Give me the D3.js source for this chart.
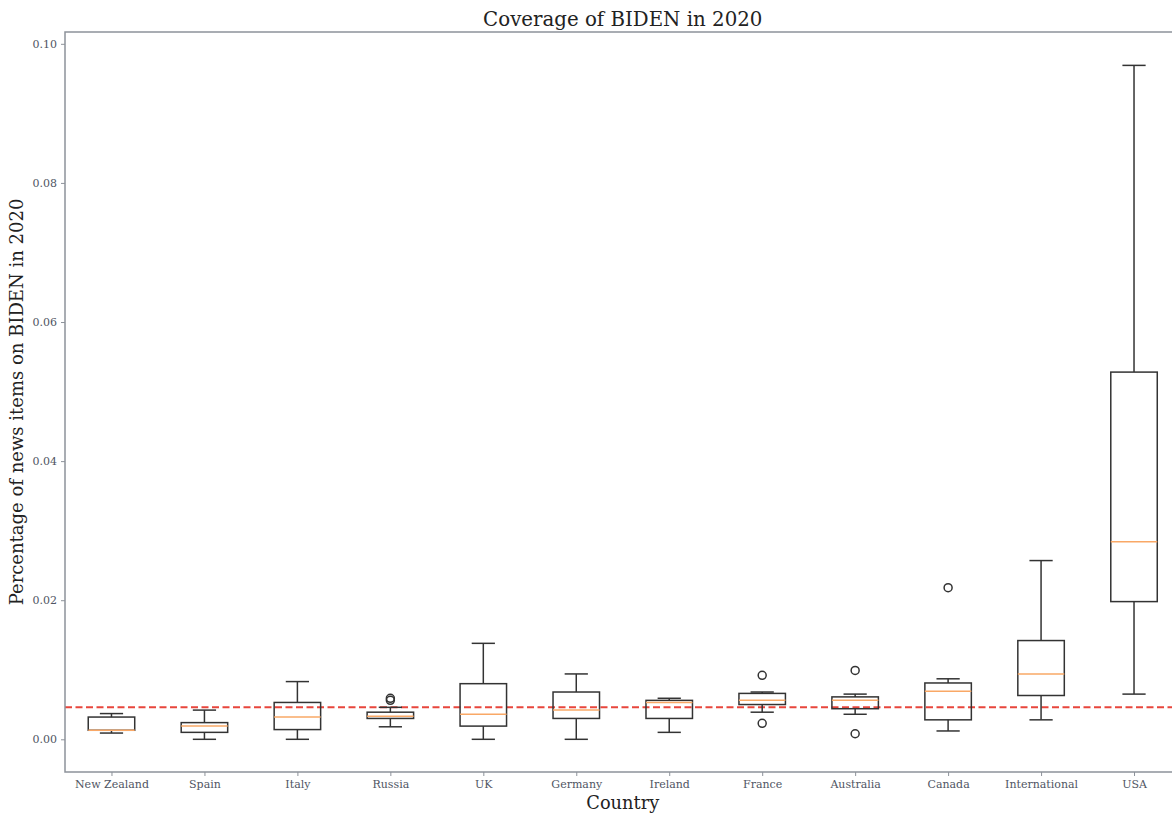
<!DOCTYPE html>
<html>
<head>
<meta charset="utf-8">
<script src="https://cdn.jsdelivr.net/npm/d3@7"></script>
<style>
  html, body { margin: 0; padding: 0; background: #fff; overflow: hidden; }
  svg { display: block; font-family: "DejaVu Serif", serif; }
</style>
</head>
<body>
<svg id="chart" width="1172" height="818"></svg>
<script>
const categories = ["New Zealand","Spain","Italy","Russia","UK","Germany","Ireland","France","Australia","Canada","International","USA"];
const whiskerLow  = [0.0009, 0.0000, 0.0000, 0.0018, 0.0000, 0.0000, 0.0010, 0.0039, 0.0036, 0.0012, 0.0028, 0.0065];
const q1          = [0.0013, 0.0010, 0.0014, 0.0030, 0.0019, 0.0030, 0.0030, 0.0050, 0.0044, 0.0028, 0.0063, 0.0198];
const medians     = [0.0013, 0.0019, 0.0032, 0.0033, 0.0036, 0.0042, 0.0053, 0.0056, 0.0056, 0.0069, 0.0094, 0.0284];
const q3          = [0.0032, 0.0024, 0.0053, 0.0039, 0.0080, 0.0068, 0.0056, 0.0066, 0.0061, 0.0081, 0.0142, 0.0528];
const whiskerHigh = [0.0037, 0.0042, 0.0083, 0.0046, 0.0138, 0.0094, 0.0059, 0.0068, 0.0065, 0.0087, 0.0257, 0.0969];
const outliers    = [[], [], [], [0.0056, 0.0059], [], [], [], [0.0092, 0.0023], [0.0099, 0.0008], [0.0218], [], []];
const meanLine = 0.0046;
const yTicks = [0.00, 0.02, 0.04, 0.06, 0.08, 0.10];
const title = "Coverage of BIDEN in 2020";
const xLabel = "Country";
const yLabel = "Percentage of news items on BIDEN in 2020";

const svg = d3.select("#chart");
const plotL = 65, plotR = 1180.5, plotT = 32, plotB = 772;
const spineColor = "#8d929a", tickText = "#4f5563", boxColor = "#333333";

const x = d3.scalePoint().domain(categories).range([plotL, plotR]).padding(0.5);
const step = x.step();
const y = d3.scaleLinear().domain([-0.0047, 0.1017]).range([plotB, plotT]);

// reference line
svg.append("line")
  .attr("x1", plotL).attr("x2", plotR)
  .attr("y1", y(meanLine)).attr("y2", y(meanLine))
  .attr("stroke", "#e8463c").attr("stroke-width", 2)
  .attr("stroke-dasharray", "7,3.5");

const boxW = step * 0.5, capW = step * 0.25;
const g = svg.append("g");
categories.forEach((c, i) => {
  const cx = x(c);
  const gg = g.append("g").attr("fill", "none").attr("stroke", boxColor).attr("stroke-width", 1.5);
  gg.append("line").attr("x1", cx).attr("x2", cx).attr("y1", y(q1[i])).attr("y2", y(whiskerLow[i]));
  gg.append("line").attr("x1", cx).attr("x2", cx).attr("y1", y(q3[i])).attr("y2", y(whiskerHigh[i]));
  gg.append("line").attr("x1", cx - capW/2).attr("x2", cx + capW/2).attr("y1", y(whiskerLow[i])).attr("y2", y(whiskerLow[i]));
  gg.append("line").attr("x1", cx - capW/2).attr("x2", cx + capW/2).attr("y1", y(whiskerHigh[i])).attr("y2", y(whiskerHigh[i]));
  gg.append("rect").attr("x", cx - boxW/2).attr("width", boxW)
    .attr("y", y(q3[i])).attr("height", Math.max(0.5, y(q1[i]) - y(q3[i])));
  g.append("line").attr("x1", cx - boxW/2).attr("x2", cx + boxW/2)
    .attr("y1", y(medians[i])).attr("y2", y(medians[i]))
    .attr("stroke", "#f9a866").attr("stroke-width", 1.5);
  outliers[i].forEach(v => {
    g.append("circle").attr("cx", cx).attr("cy", y(v)).attr("r", 4)
      .attr("fill", "none").attr("stroke", boxColor).attr("stroke-width", 1.5);
  });
});

svg.append("rect").attr("x", plotL).attr("y", plotT).attr("width", plotR - plotL).attr("height", plotB - plotT)
  .attr("fill", "none").attr("stroke", spineColor).attr("stroke-width", 1.5);

const xAxis = svg.append("g").attr("transform", `translate(0,${plotB})`)
  .call(d3.axisBottom(x).tickSize(4).tickPadding(4));
const yAxis = svg.append("g").attr("transform", `translate(${plotL},0)`)
  .call(d3.axisLeft(y).tickValues(yTicks).tickFormat(d3.format(".2f")).tickSize(4).tickPadding(4));
[xAxis, yAxis].forEach(a => {
  a.select(".domain").remove();
  a.selectAll(".tick line").attr("stroke", spineColor).attr("stroke-width", 1);
  a.selectAll(".tick text").attr("fill", tickText).style("font-family", "DejaVu Serif, serif").style("font-size", "11px");
});

svg.append("text").attr("x", (plotL + plotR) / 2).attr("y", 26).attr("text-anchor", "middle")
  .attr("fill", "#222").style("font-size", "19.8px").text(title);
svg.append("text").attr("x", (plotL + plotR) / 2).attr("y", 809).attr("text-anchor", "middle")
  .attr("fill", "#222").style("font-size", "17.8px").text(xLabel);
svg.append("text").attr("transform", `translate(23,${(plotT + plotB) / 2}) rotate(-90)`)
  .attr("text-anchor", "middle").attr("fill", "#222").style("font-size", "18px").text(yLabel);
</script>
</body>
</html>
